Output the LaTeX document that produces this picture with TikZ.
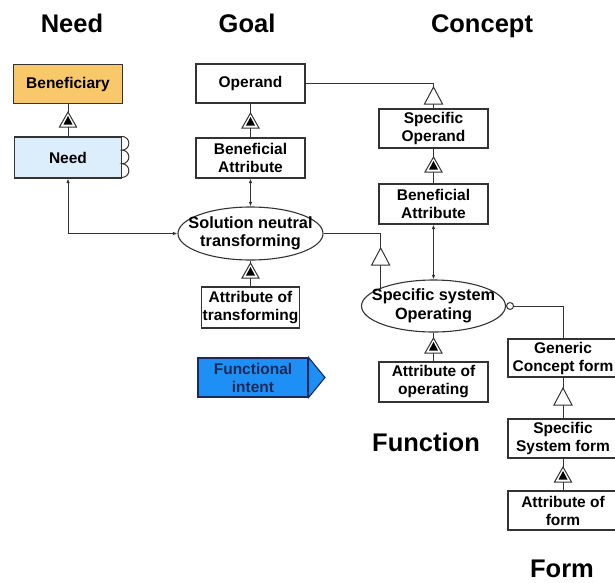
\documentclass[tikz,border=0pt]{standalone}
\usepackage{fontspec}
\setmainfont{Liberation Sans}
\usetikzlibrary{arrows.meta,shapes.geometric,calc}
\definecolor{benef}{HTML}{F9C86B}
\definecolor{needc}{HTML}{DCEEFB}
\definecolor{fiblue}{HTML}{1E90F5}
\definecolor{finavy}{HTML}{1A2A5A}
\definecolor{edgec}{HTML}{333333}
\newcommand{\boxfont}{\fontsize{15.5}{18}\selectfont\bfseries}
\newcommand{\ellfont}{\fontsize{16.3}{18.5}\selectfont\bfseries}
\newcommand{\titlefont}{\fontsize{25.5}{30}\selectfont\bfseries}
\begin{document}
\begin{tikzpicture}[x=1pt,y=-1pt,
 box/.style={draw=edgec, line width=1.1pt, fill=white, inner sep=0pt, align=center, font=\boxfont, minimum width=109pt, minimum height=39pt},
 ell/.style={ellipse, draw=edgec, line width=1.1pt, fill=white, inner ysep=0pt, align=center, font=\ellfont, minimum width=145pt, minimum height=53pt},
 conn/.style={draw=edgec, line width=1pt},
 dbl/.style={conn, {Latex[length=4.5pt,width=3.5pt]}-{Latex[length=4.5pt,width=3.5pt]}},
 ttl/.style={font=\titlefont, anchor=base, inner sep=0pt},
 gen/.pic={\draw[edgec, line width=1pt, fill=white] (0,0) -- (-9,17) -- (9,17) -- cycle;},
 agg/.pic={\draw[edgec, line width=1pt, fill=white] (0,0) -- (-8.5,15) -- (8.5,15) -- cycle; \fill[black] (0,4) -- (-4.5,12.5) -- (4.5,12.5) -- cycle;},
]
\useasboundingbox (0,0) rectangle (615,582);
\clip (0,0) rectangle (615,582);

% titles
\node[ttl] (tneed) at (72,32) {Need};
\node[ttl] (tgoal) at (247,32) {Goal};
\node[ttl] (tconcept) at (482,32) {Concept};
\node[ttl] (tfunc) at (426,451) {Function};
\node[ttl] (tform) at (562,577) {Form};

% need column
\node[box, fill=benef] (benef) at (68,84) {Beneficiary};
\node[box, fill=needc, minimum width=107pt, minimum height=41pt] (need) at (68,157.5) {Need};
\draw[edgec, line width=1pt] (need.north east) arc[start angle=90,end angle=-90,radius=6.83pt]
  arc[start angle=90,end angle=-90,radius=6.83pt] arc[start angle=90,end angle=-90,radius=6.83pt];

% goal column
\node[box] (operand) at (250.5,83.5) {Operand};
\node[box, minimum height=40pt] (ba1) at (250.5,158) {Beneficial\\Attribute};
\node[ell, inner xsep=-14pt] (snt) at (250.5,233.5) {Solution neutral\\transforming};
\node[box, minimum width=98pt, minimum height=41pt] (aot) at (250.5,307.5) {Attribute of\\transforming};
\node[box, fill=fiblue, draw=finavy, text=finavy, minimum width=110pt] (fi) at (253,377.5) {Functional\\intent};
\coordinate (fitip) at (325,377.5);
\draw[finavy, line width=1.1pt, fill=fiblue] (fi.north east) -- (fitip) -- (fi.south east) -- cycle;

% concept column
\node[box] (so) at (433.5,128.5) {Specific\\Operand};
\node[box, minimum height=40pt] (ba2) at (433.5,204) {Beneficial\\Attribute};
\node[ell, inner xsep=-11pt, minimum width=144pt, minimum height=52pt] (sso) at (433.5,306) {Specific system\\Operating};
\node[box, minimum height=40pt] (aoo) at (433.5,382) {Attribute of\\operating};

% form column
\node[box, minimum width=110pt, minimum height=38pt] (gcf) at (563,358) {Generic\\Concept form};
\node[box, minimum width=110pt] (ssf) at (563,438.5) {Specific\\System form};
\node[box, minimum width=110pt] (aof) at (563,510.5) {Attribute of\\form};
\node[draw=edgec, circle, line width=1pt, fill=white, minimum size=7pt, inner sep=0pt, anchor=west] (circ) at (sso.east) {};

% connectors
\draw[conn] (benef) -- (need);
\draw[conn] (operand) -- (ba1);
\draw[dbl] (ba1) -- (snt);
\draw[conn] (snt) -- (aot);
\draw[conn] (operand.east) -| (so.north);
\draw[conn] (so) -- (ba2);
\draw[dbl] (ba2) -- (sso);
\draw[conn] (sso) -- (aoo);
\draw[conn] (snt.east) -| (sso.161);
\draw[conn] (circ.east) -| (gcf.north);
\draw[conn] (gcf) -- (ssf);
\draw[conn] (ssf) -- (aof);
\draw[dbl] (need.south) |- (snt.west);

% symbols
\pic at (68,112) {agg};
\pic at (250.5,113) {agg};
\pic at (250.5,263) {agg};
\pic at (433.5,87) {gen};
\pic at (433.5,157) {agg};
\pic at (433.5,338) {agg};
\pic at (sso.161 |- 0,248) {gen};
\pic at (563,388) {gen};
\pic at (563,467) {agg};
\end{tikzpicture}
\end{document}
